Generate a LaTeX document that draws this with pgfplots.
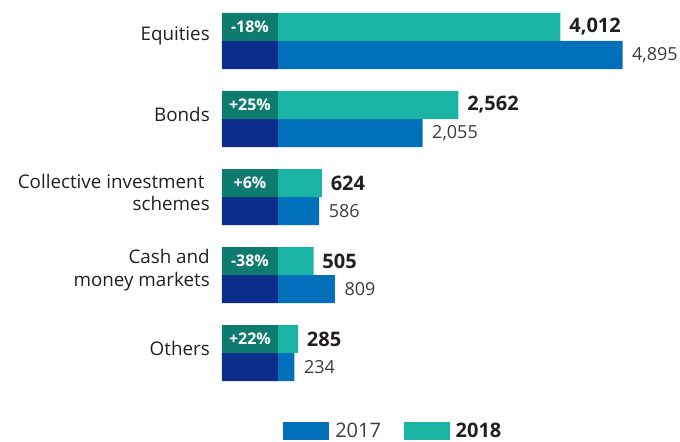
\documentclass[border=0pt]{standalone}
\usepackage{fontspec}
\setmainfont{Open Sans}
\usepackage{pgfplots}
\pgfplotsset{compat=1.18}
\definecolor{c17}{HTML}{0070BB}
\definecolor{c18}{HTML}{1AB4A5}
\definecolor{box17}{HTML}{0C2D8C}
\definecolor{box18}{HTML}{0D7B6E}
\definecolor{txtdark}{HTML}{231F20}
\definecolor{txtgray}{HTML}{3C3C3C}

% 1 px of the reference = 0.75pt
\begin{document}
\begin{tikzpicture}
\begin{axis}[
  name=ax,
  scale only axis, width=343.5pt, height=330.75pt,
  xmin=-795, xmax=5711, ymin=-1.1282, ymax=4.5256,
  axis line style={draw=none},
  xtick=\empty,
  ytick={0,1,2,3,4},
  yticklabels={Others,{Cash and\\money markets},{Collective investment\hspace*{4pt}\\schemes},Bonds,Equities},
  major tick length=0pt,
  yticklabel style={align=right, font=\fontsize{14.1}{17}\selectfont,
    text=txtdark, yshift=3.5pt, inner xsep=0pt, xshift=-9pt},
  clip=false,
  legend columns=2,
  legend style={at={(0.1332,0.0227)}, anchor=west, draw=none, fill=none,
    inner sep=0pt, font=\fontsize{15}{18}\selectfont, text=txtgray,
    /tikz/every even column/.append style={column sep=15pt}},
  legend image code/.code={\fill[#1] (0pt,-6.75pt) rectangle (34.5pt,6.75pt);
    \path (37pt,0pt);},
  /pgf/number format/1000 sep={,},
  /pgf/number format/assume math mode=true,
]
% 2017
\addplot[xbar, bar width=0.359, bar shift=0pt, fill=c17, draw=none,
  point meta=x, nodes near coords,
  nodes near coords style={font=\fontsize{13.5}{16}\selectfont, text=txtgray,
    inner xsep=0pt, xshift=7pt}]
  coordinates {(4895,3.8205) (2055,2.8205) (586,1.8205) (809,0.8205) (234,-0.1795)};
\addlegendentry{2017}
% 2018
\addplot[xbar, bar width=0.359, bar shift=0pt, fill=c18, draw=none,
  point meta=x, nodes near coords,
  nodes near coords style={font=\bfseries\fontsize{15}{18}\selectfont, text=txtdark,
    inner xsep=0pt, xshift=6.5pt}]
  coordinates {(4012,4.1795) (2562,3.1795) (624,2.1795) (505,1.1795) (285,0.1795)};
\addlegendentry{\textbf{\textcolor{txtdark}{2018}}}
% left boxes
\addplot[xbar, bar width=0.359, bar shift=0pt, fill=box17, draw=none, forget plot]
  coordinates {(-795,3.8205) (-795,2.8205) (-795,1.8205) (-795,0.8205) (-795,-0.1795)};
\addplot[xbar, bar width=0.359, bar shift=0pt, fill=box18, draw=none, forget plot]
  coordinates {(-795,4.1795) (-795,3.1795) (-795,2.1795) (-795,1.1795) (-795,0.1795)};
% change labels
\addplot[only marks, mark=*, mark size=0pt, forget plot,
  point meta=explicit symbolic, nodes near coords,
  nodes near coords style={anchor=center, text=white,
    font=\bfseries\fontsize{12}{14}\selectfont}]
  coordinates {(-397.5,4.1795)[-18\%] (-397.5,3.1795)[+25\%] (-397.5,2.1795)[+6\%]
    (-397.5,1.1795)[-38\%] (-397.5,0.1795)[+22\%]};
\end{axis}
\pgfresetboundingbox
\path[use as bounding box] (ax.south west) ++(-166.5pt,0pt) rectangle (ax.north east);
\end{tikzpicture}
\end{document}
